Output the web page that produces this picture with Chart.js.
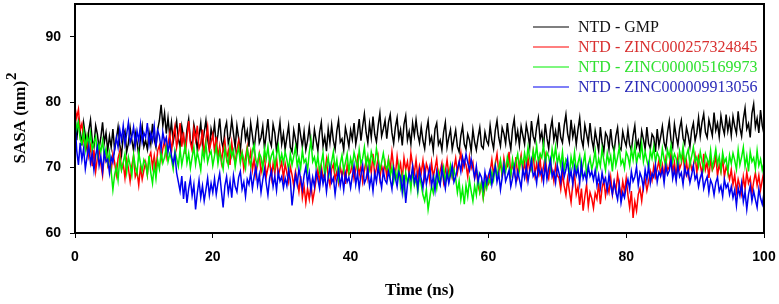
<!DOCTYPE html>
<html>
<head>
<meta charset="utf-8">
<script src="https://cdn.jsdelivr.net/npm/chart.js@4/dist/chart.umd.min.js"></script>
<style>
  html, body { margin: 0; padding: 0; background: #fff; }
  #wrap { width: 779px; height: 304px; }
</style>
</head>
<body>
<div id="wrap"><canvas id="sasaChart" width="779" height="304"></canvas></div>
<script>
// Sampling step of the trajectory (ns)
const timeStep = 0.25;

// Series values (SASA, nm^2), one row per 5 ns
const gmpValues = [
  78.0,
  74.2, 77.1, 75.6, 73.4, 76.8, 74.9, 72.8, 75.7, 77.3, 74.1, 73.2, 76.4, 75.1, 72.9, 74.6, 76.9, 73.8, 75.3, 72.6, 74.8,
  73.1, 75.9, 72.7, 74.3, 76.2, 73.5, 71.9, 74.8, 75.6, 72.4, 73.7, 76.1, 74.2, 72.6, 75.3, 73.9, 71.8, 74.5, 76.3, 73.2,
  74.1, 72.8, 75.4, 73.6, 76.7, 74.3, 73.1, 75.8, 77.2, 79.6, 76.4, 78.3, 75.2, 77.6, 74.8, 76.9, 73.9, 75.5, 77.1, 74.4,
  73.2, 76.3, 74.7, 72.9, 75.8, 77.4, 74.1, 73.3, 76.6, 75.2, 72.8, 74.9, 76.8, 73.6, 75.4, 77.2, 74.3, 72.7, 75.9, 74.6,
  76.7, 73.4, 75.1, 77.5, 74.2, 72.9, 75.8, 76.9, 73.7, 74.8, 77.3, 75.2, 73.1, 76.4, 74.5, 72.6, 75.7, 77.1, 74.3, 75.6,
  73.2, 76.8, 74.9, 72.7, 75.4, 77.2, 73.8, 74.6, 76.3, 72.9, 75.1, 77.4, 74.2, 73.3, 76.6, 75.3, 72.5, 74.8, 76.9, 73.6,
  75.2, 72.8, 74.6, 76.4, 73.1, 72.4, 75.7, 74.3, 72.6, 76.8, 74.9, 73.2, 75.5, 72.7, 74.1, 76.2, 73.4, 72.9, 75.8, 74.2,
  72.6, 75.4, 76.9, 73.3, 74.7, 72.5, 75.9, 73.8, 76.5, 74.1, 72.8, 75.6, 77.2, 73.9, 74.4, 72.7, 76.1, 74.8, 73.2, 75.7,
  74.3, 76.8, 73.6, 75.2, 77.4, 74.1, 76.3, 78.2, 75.4, 73.8, 76.7, 74.6, 77.8, 75.1, 73.9, 76.4, 78.3, 74.8, 75.9, 77.2,
  74.4, 76.9, 78.1, 75.3, 73.7, 76.2, 77.6, 74.5, 75.8, 73.4, 76.6, 77.9, 74.2, 75.5, 73.6, 76.8, 74.9, 77.3, 75.1, 73.8,
  76.2, 74.1, 72.9, 75.6, 77.1, 73.8, 74.7, 72.6, 75.9, 76.8, 73.5, 74.2, 72.7, 75.4, 76.9, 73.1, 74.6, 75.8, 72.8, 74.3,
  75.7, 73.2, 72.4, 74.9, 76.3, 73.6, 72.8, 75.1, 74.2, 72.5, 75.8, 73.9, 72.7, 74.6, 76.1, 73.3, 72.9, 75.4, 74.1, 73.5,
  76.4, 74.2, 72.9, 75.7, 77.2, 74.6, 73.3, 76.1, 75.2, 73.7, 76.8, 74.4, 72.8, 75.9, 77.4, 74.1, 75.6, 73.4, 76.3, 74.9,
  73.6, 76.5, 75.1, 73.2, 77.1, 74.8, 73.9, 76.2, 77.6, 74.3, 75.4, 73.1, 76.7, 74.5, 72.9, 75.8, 77.3, 74.2, 75.6, 73.7,
  76.9, 74.6, 73.8, 76.4, 78.1, 75.2, 73.9, 77.3, 74.7, 76.1, 73.5, 75.8, 77.6, 74.4, 73.2, 76.5, 75.1, 73.7, 76.8, 74.3,
  72.9, 75.6, 74.1, 72.6, 76.2, 73.8, 72.4, 75.3, 74.7, 72.8, 75.9, 73.4, 72.5, 74.8, 76.1, 73.1, 72.7, 75.5, 74.2, 73.3,
  75.8, 73.5, 72.6, 74.9, 76.4, 73.2, 74.1, 72.5, 75.6, 74.3, 72.8, 76.2, 73.7, 72.9, 75.1, 74.6, 72.4, 75.9, 73.3, 74.7,
  76.3, 73.8, 72.9, 75.4, 77.1, 74.2, 73.1, 76.6, 74.8, 73.4, 75.9, 77.2, 74.5, 73.6, 76.1, 74.9, 73.2, 75.7, 76.8, 74.1,
  75.3, 77.6, 74.8, 76.9, 78.2, 75.4, 74.6, 77.3, 76.1, 74.9, 78.4, 75.7, 76.8, 74.7, 77.9, 76.2, 75.1, 78.1, 75.6, 77.2,
  74.9, 77.8, 76.3, 75.2, 78.6, 76.1, 74.8, 77.4, 79.1, 75.9, 76.7, 74.6, 78.3, 79.7, 76.2, 77.5, 75.3, 78.8, 76.4, 75.1
];
const zinc257Values = [
  79.2,
  77.6, 78.9, 75.8, 76.7, 74.2, 72.9, 74.6, 71.8, 73.3, 70.2, 72.7, 69.4, 71.5, 73.1, 70.6, 68.8, 71.9, 72.6, 70.4, 71.7,
  69.5, 72.1, 70.8, 68.9, 71.4, 72.5, 69.7, 70.6, 68.4, 71.2, 69.9, 67.9, 70.3, 71.8, 68.6, 69.4, 67.3, 70.1, 68.2, 69.6,
  70.8, 68.9, 71.5, 72.3, 70.1, 71.8, 69.6, 72.6, 73.4, 71.2, 72.9, 74.1, 71.7, 73.6, 75.2, 72.4, 74.8, 76.3, 73.1, 74.7,
  76.8, 73.2, 75.4, 72.1, 74.6, 77.1, 73.8, 72.6, 75.9, 74.2, 76.4, 72.9, 73.7, 75.8, 71.8, 74.3, 76.2, 72.7, 73.9, 75.1,
  72.4, 74.7, 71.6, 73.3, 70.8, 72.9, 74.2, 71.3, 72.6, 70.4, 73.8, 71.9, 70.7, 72.8, 74.1, 71.2, 72.3, 69.8, 71.6, 73.2,
  70.9, 72.4, 69.6, 71.3, 68.8, 70.7, 72.1, 69.2, 70.4, 71.8, 68.6, 69.9, 71.2, 68.4, 70.6, 69.1, 71.5, 68.7, 69.8, 70.9,
  68.3, 70.6, 69.2, 67.8, 70.1, 68.9, 67.2, 69.4, 68.1, 66.3, 68.7, 65.4, 67.1, 64.6, 66.8, 65.2, 67.5, 64.9, 66.4, 68.2,
  69.7, 67.6, 70.3, 68.4, 69.1, 71.2, 68.6, 67.3, 69.8, 70.5, 68.2, 69.4, 67.7, 70.1, 68.8, 69.9, 67.5, 70.4, 68.9, 69.3,
  70.6, 68.3, 69.7, 71.4, 68.9, 70.2, 67.8, 69.6, 71.1, 68.5, 70.8, 69.2, 72.1, 68.7, 69.9, 71.6, 68.4, 70.3, 69.1, 70.7,
  68.6, 71.3, 69.8, 72.4, 70.1, 68.9, 71.7, 69.4, 70.6, 68.2, 71.5, 69.7, 70.9, 68.8, 72.2, 70.4, 69.1, 71.2, 68.6, 70.3,
  69.2, 71.1, 68.4, 70.6, 69.7, 67.9, 70.8, 68.6, 69.9, 71.3, 68.3, 69.5, 70.7, 67.8, 69.4, 71.2, 68.9, 70.1, 68.5, 69.8,
  71.4, 69.2, 70.7, 72.3, 69.8, 71.1, 70.4, 68.6, 71.6, 69.9, 70.8, 68.4, 69.7, 67.3, 66.2, 67.8, 65.4, 66.9, 68.5, 67.6,
  69.4, 71.2, 68.8, 70.6, 72.1, 69.3, 70.9, 68.5, 71.4, 69.7, 70.2, 72.4, 68.9, 70.7, 69.1, 71.6, 68.7, 70.4, 71.9, 69.2,
  70.8, 68.6, 71.5, 69.4, 70.2, 72.3, 68.9, 70.6, 69.1, 71.4, 68.4, 70.1, 71.8, 69.2, 68.3, 70.7, 69.6, 67.9, 70.3, 68.8,
  68.4, 66.7, 69.1, 67.2, 65.8, 68.3, 66.4, 64.7, 67.6, 68.9, 65.9, 67.1, 64.3, 66.8, 63.4, 65.6, 67.4, 64.1, 66.2, 65.3,
  63.8, 66.1, 65.2, 67.6, 64.4, 66.9, 68.1, 65.7, 67.3, 66.2, 68.5, 65.9, 67.8, 66.4, 68.9, 67.1, 65.6, 67.9, 66.3, 68.4,
  65.8, 63.9, 66.4, 62.3, 64.8, 63.4, 65.9, 66.8, 64.9, 67.3, 68.2, 66.5, 67.9, 69.4, 68.1, 70.2, 68.6, 69.8, 71.1, 68.9,
  70.4, 68.7, 71.3, 69.6, 70.1, 72.2, 69.3, 70.8, 68.6, 71.5, 69.8, 70.6, 72.4, 69.1, 70.9, 68.8, 71.2, 69.7, 70.3, 71.8,
  69.2, 71.6, 70.4, 68.9, 72.1, 69.7, 70.8, 68.4, 71.3, 69.6, 70.2, 71.9, 68.7, 70.5, 69.3, 71.4, 68.6, 70.1, 69.4, 68.2,
  69.7, 67.4, 68.9, 66.3, 68.2, 67.1, 65.9, 68.6, 66.8, 69.3, 67.6, 68.4, 66.1, 67.8, 69.2, 67.3, 68.8, 66.6, 68.1, 69.5
];
const zinc516Values = [
  77.6,
  75.8, 76.9, 74.3, 73.6, 75.7, 72.8, 74.9, 73.4, 75.2, 72.6, 73.8, 74.7, 71.9, 73.5, 72.4, 74.1, 71.6, 72.9, 70.8, 72.3,
  69.4, 66.6, 68.9, 70.2, 68.1, 71.4, 69.6, 70.8, 72.1, 69.3, 71.6, 70.4, 68.8, 71.9, 70.2, 69.1, 72.3, 70.7, 69.5, 71.2,
  70.6, 68.9, 71.8, 69.2, 67.6, 70.4, 68.3, 71.1, 69.8, 72.4, 70.7, 71.6, 73.2, 70.9, 72.1, 71.3, 69.8, 72.6, 71.4, 70.2,
  72.8, 70.4, 71.9, 73.4, 70.7, 72.2, 69.9, 71.6, 73.1, 70.5, 72.4, 71.1, 69.6, 72.7, 71.3, 73.6, 70.8, 71.9, 72.5, 70.3,
  71.8, 73.2, 70.6, 72.4, 71.1, 69.8, 72.9, 71.5, 70.3, 73.4, 71.7, 72.6, 70.1, 71.9, 73.1, 70.7, 72.3, 71.2, 69.9, 72.8,
  71.4, 70.2, 72.7, 73.5, 71.1, 70.4, 72.2, 71.6, 69.7, 72.9, 71.3, 73.2, 70.6, 71.8, 72.5, 70.1, 71.9, 73.3, 70.8, 72.1,
  70.7, 72.4, 71.2, 69.6, 72.1, 70.4, 71.7, 73.1, 70.2, 71.5, 69.9, 72.6, 70.8, 71.3, 69.5, 72.3, 74.2, 70.9, 71.6, 70.1,
  71.8, 69.4, 70.7, 72.2, 68.6, 70.3, 71.6, 69.1, 70.9, 72.4, 69.7, 71.2, 68.4, 70.6, 71.9, 69.5, 70.8, 72.1, 69.3, 71.4,
  70.2, 72.3, 71.1, 69.8, 72.7, 70.6, 71.4, 73.1, 70.3, 71.8, 69.9, 72.4, 71.2, 70.5, 72.9, 71.3, 69.6, 70.8, 72.2, 70.4,
  69.8, 71.2, 68.6, 70.1, 67.9, 69.4, 68.2, 70.3, 67.1, 68.8, 66.4, 69.2, 67.6, 68.9, 66.7, 69.6, 67.3, 68.4, 66.2, 68.7,
  67.4, 65.8, 64.9, 66.6, 63.6, 65.4, 67.2, 66.1, 68.3, 66.8, 69.2, 67.6, 68.9, 70.1, 67.8, 69.4, 68.1, 70.3, 68.6, 69.7,
  68.4, 66.2, 67.9, 65.1, 66.8, 64.4, 67.3, 65.6, 68.1, 66.4, 64.9, 67.2, 65.8, 68.6, 66.3, 67.7, 65.4, 67.9, 66.8, 68.3,
  67.6, 69.3, 68.1, 70.4, 68.7, 69.9, 71.2, 68.9, 70.6, 69.4, 71.6, 70.2, 68.8, 71.3, 69.7, 70.9, 72.1, 69.6, 71.4, 70.3,
  72.2, 70.7, 73.1, 71.4, 69.9, 72.6, 71.2, 73.4, 70.8, 72.1, 71.5, 73.6, 70.4, 72.3, 71.7, 69.8, 72.8, 71.1, 73.2, 70.6,
  71.9, 70.2, 72.4, 69.6, 71.3, 70.8, 68.9, 71.6, 70.1, 72.3, 69.4, 70.7, 71.8, 69.2, 70.6, 72.1, 68.8, 70.4, 71.5, 69.7,
  70.9, 72.6, 69.8, 71.4, 70.2, 72.9, 71.1, 69.6, 72.2, 70.7, 71.8, 69.4, 72.5, 70.3, 71.6, 73.1, 70.5, 71.2, 69.9, 72.4,
  71.7, 70.3, 72.8, 71.2, 73.3, 70.6, 72.1, 71.5, 73.7, 70.9, 72.4, 71.1, 69.9, 72.6, 71.4, 73.2, 70.8, 72.3, 71.6, 70.4,
  72.9, 71.3, 70.2, 72.7, 71.6, 73.4, 70.9, 72.1, 71.4, 69.8, 72.5, 71.1, 73.2, 70.6, 71.9, 72.8, 70.4, 71.7, 73.1, 70.9,
  71.6, 70.2, 72.4, 70.9, 69.7, 72.1, 71.3, 70.4, 72.6, 69.9, 71.2, 72.8, 70.5, 71.7, 69.6, 72.3, 70.8, 71.4, 69.3, 71.9,
  70.6, 72.2, 71.1, 69.7, 72.7, 70.4, 71.6, 73.1, 70.2, 71.8, 69.4, 72.4, 70.9, 71.5, 69.8, 72.6, 70.3, 71.3, 69.6, 70.8
];
const zinc991Values = [
  77.2,
  72.6, 70.4, 73.8, 71.2, 72.9, 69.8, 71.6, 73.3, 70.7, 72.1, 69.6, 71.9, 73.2, 70.3, 71.7, 69.4, 72.4, 70.9, 71.3, 69.2,
  71.6, 70.8, 72.9, 74.6, 73.1, 75.8, 74.2, 76.4, 73.6, 75.1, 76.9, 73.8, 74.7, 76.2, 73.4, 75.6, 74.1, 76.6, 73.9, 75.3,
  74.6, 76.8, 73.5, 75.2, 74.1, 76.3, 73.2, 75.7, 74.8, 72.9, 75.4, 73.8, 74.6, 72.4, 73.9, 71.8, 70.6, 72.1, 69.2, 67.8,
  66.4, 68.7, 65.2, 67.9, 64.6, 66.8, 68.3, 65.7, 67.4, 63.6, 66.1, 68.1, 65.4, 67.2, 64.9, 66.6, 68.4, 65.8, 67.6, 66.2,
  68.3, 65.9, 67.7, 69.1, 66.4, 63.9, 67.2, 68.6, 66.1, 67.9, 65.4, 68.8, 67.1, 66.3, 68.5, 69.4, 66.7, 67.8, 65.6, 68.2,
  67.4, 69.2, 66.8, 68.6, 70.1, 67.3, 68.9, 66.2, 68.1, 69.7, 67.6, 65.8, 68.4, 69.5, 67.1, 68.7, 66.5, 69.3, 67.9, 68.6,
  66.9, 68.4, 67.2, 69.6, 68.1, 64.2, 66.6, 68.9, 67.4, 69.8, 68.3, 66.7, 68.8, 70.1, 67.6, 69.2, 66.4, 68.5, 67.1, 69.4,
  68.2, 66.8, 69.3, 67.5, 68.9, 66.3, 68.6, 70.2, 67.7, 68.4, 65.9, 68.1, 69.6, 67.2, 68.8, 66.6, 69.1, 67.8, 68.5, 66.9,
  68.7, 70.3, 67.4, 69.1, 66.8, 68.9, 70.4, 67.6, 68.3, 69.8, 67.1, 68.6, 66.4, 69.2, 67.8, 70.1, 68.4, 66.9, 69.5, 68.1,
  67.6, 69.4, 68.2, 66.7, 69.8, 68.4, 67.1, 69.3, 68.6, 66.2, 68.9, 64.6, 67.4, 69.1, 68.2, 70.2, 67.7, 68.9, 66.8, 69.6,
  68.3, 66.9, 69.7, 67.5, 68.8, 70.1, 67.2, 68.6, 66.5, 69.4, 68.1, 67.3, 69.9, 68.4, 66.8, 69.2, 67.6, 68.9, 70.3, 67.8,
  68.6, 69.8, 70.9, 69.4, 71.6, 70.3, 72.1, 70.8, 69.6, 71.3, 69.9, 68.4, 70.2, 67.8, 69.1, 68.5, 66.9, 69.3, 67.6, 68.8,
  69.7, 67.4, 68.9, 70.2, 67.8, 69.1, 66.6, 68.5, 70.4, 67.9, 68.7, 69.6, 67.1, 68.3, 70.1, 67.6, 69.4, 68.2, 66.9, 69.8,
  68.4, 70.2, 67.9, 69.6, 71.1, 68.7, 69.3, 67.6, 70.4, 68.9, 69.7, 67.8, 70.6, 68.2, 69.9, 71.2, 68.6, 69.4, 67.7, 70.3,
  69.1, 67.8, 70.4, 68.6, 69.7, 71.3, 68.2, 69.5, 67.4, 70.1, 68.8, 69.9, 67.6, 70.6, 68.3, 69.2, 67.9, 70.2, 68.7, 69.4,
  68.1, 69.6, 67.3, 68.8, 66.9, 69.2, 67.7, 68.4, 66.5, 68.9, 67.2, 65.9, 67.8, 66.3, 65.1, 67.4, 64.6, 66.2, 65.4, 67.1,
  68.2, 66.7, 69.4, 67.9, 68.6, 70.1, 67.3, 69.2, 68.4, 66.9, 69.7, 68.1, 70.3, 67.6, 69.1, 68.5, 70.4, 67.8, 69.3, 68.7,
  69.8, 67.6, 70.2, 68.9, 69.5, 71.1, 68.3, 69.7, 67.9, 70.4, 68.6, 69.2, 67.4, 70.1, 68.8, 69.6, 67.7, 68.9, 70.3, 68.2,
  68.9, 67.1, 68.4, 69.3, 66.8, 67.9, 68.6, 66.2, 68.1, 67.4, 65.8, 67.7, 68.5, 66.4, 67.2, 65.6, 68.2, 66.9, 67.5, 65.9,
  67.1, 65.4, 66.6, 64.2, 66.9, 65.7, 67.6, 64.8, 66.3, 63.6, 65.9, 67.2, 64.9, 66.4, 65.1, 63.9, 66.7, 65.3, 64.4, 66.1
];

const seriesNames = ['NTD - GMP', 'NTD - ZINC000257324845', 'NTD - ZINC000005169973', 'NTD - ZINC000009913056'];
const lineColors = ['#000000', '#ff0000', '#00f000', '#0000f0'];
const textColors = ['#111111', '#d83030', '#30e030', '#2a2ab8'];
const xTicks = [0, 20, 40, 60, 80, 100];
const yTicks = [60, 70, 80, 90];

const allSeries = [gmpValues, zinc257Values, zinc516Values, zinc991Values];

const serifBold = 'bold 17px "Liberation Serif", "Times New Roman", serif';
const supBold = 'bold 15px "Liberation Serif", "Times New Roman", serif';

// frame, legend and y title drawn by hand
const framePlugin = {
    id: 'frameAndLegend',
    afterDatasetsDraw(chart) {
        const { ctx, chartArea: a } = chart;
        ctx.save();
        ctx.strokeStyle = '#000';
        ctx.lineWidth = 2;
        ctx.strokeRect(a.left, a.top, a.right - a.left, a.bottom - a.top);

        ctx.font = '16px "Liberation Serif", "Times New Roman", serif';
        ctx.textBaseline = 'middle';
        ctx.textAlign = 'left';
        seriesNames.forEach((name, i) => {
            const y = a.top + 23 + i * 20;
            ctx.strokeStyle = lineColors[i];
            ctx.lineWidth = 1.2;
            ctx.beginPath();
            ctx.moveTo(a.right - 231, y);
            ctx.lineTo(a.right - 195, y);
            ctx.stroke();
            ctx.fillStyle = textColors[i];
            ctx.fillText(name, a.right - 186, y + 1);
        });

        // y axis title with superscript
        const main = 'SASA (nm)';
        ctx.translate(19, (a.top + a.bottom) / 2);
        ctx.rotate(-Math.PI / 2);
        ctx.font = serifBold;
        const w1 = ctx.measureText(main).width;
        ctx.font = supBold;
        const w2 = ctx.measureText('2').width;
        ctx.fillStyle = '#000';
        ctx.textBaseline = 'middle';
        ctx.font = serifBold;
        ctx.fillText(main, -(w1 + w2) / 2, 2);
        ctx.font = supBold;
        ctx.fillText('2', -(w1 + w2) / 2 + w1 + 1, -7);
        ctx.restore();
    }
};

function renderChart() {
    const canvas = document.getElementById('sasaChart');
    const ctx = canvas.getContext('2d');

    new Chart(ctx, {
        type: 'line',
        data: {
            datasets: allSeries.map((vals, i) => ({
                label: seriesNames[i],
                data: vals.map((v, k) => ({ x: k * timeStep, y: v })),
                borderColor: lineColors[i],
                borderWidth: 1.5,
                pointRadius: 0,
                tension: 0,
                fill: false,
                order: 4 - i
            }))
        },
        options: {
            responsive: false,
            animation: false,
            events: [],
            layout: { padding: { top: 4, right: 15, bottom: 0, left: 0 } },
            plugins: {
                legend: { display: false },
                tooltip: { enabled: false }
            },
            scales: {
                x: {
                    type: 'linear',
                    min: 0,
                    max: 100,
                    afterBuildTicks: (s) => { s.ticks = xTicks.map(v => ({ value: v })); },
                    afterFit: (s) => { s.height = 71; s.paddingLeft = 0; s.paddingRight = 0; },
                    grid: { display: true, drawOnChartArea: false, tickLength: 5, color: '#000', lineWidth: 1 },
                    border: { display: false },
                    ticks: {
                        color: '#000',
                        padding: 11,
                        maxRotation: 0,
                        font: { family: '"Liberation Sans", Arial, sans-serif', size: 14, weight: 'bold' }
                    },
                    title: {
                        display: true,
                        text: 'Time (ns)',
                        color: '#000',
                        padding: { top: 0, bottom: 3 },
                        font: { family: '"Liberation Serif", "Times New Roman", serif', size: 17, weight: 'bold' }
                    }
                },
                y: {
                    min: 60,
                    max: 95,
                    afterBuildTicks: (s) => { s.ticks = yTicks.map(v => ({ value: v })); },
                    afterFit: (s) => { s.width = 75; s.paddingTop = 0; s.paddingBottom = 0; },
                    grid: { display: true, drawOnChartArea: false, tickLength: 5, color: '#000', lineWidth: 1 },
                    border: { display: false },
                    ticks: {
                        color: '#000',
                        padding: 9,
                        font: { family: '"Liberation Sans", Arial, sans-serif', size: 14, weight: 'bold' }
                    },
                    title: { display: false }
                }
            }
        },
        plugins: [framePlugin]
    });
}

document.addEventListener('DOMContentLoaded', renderChart);
</script>
</body>
</html>
